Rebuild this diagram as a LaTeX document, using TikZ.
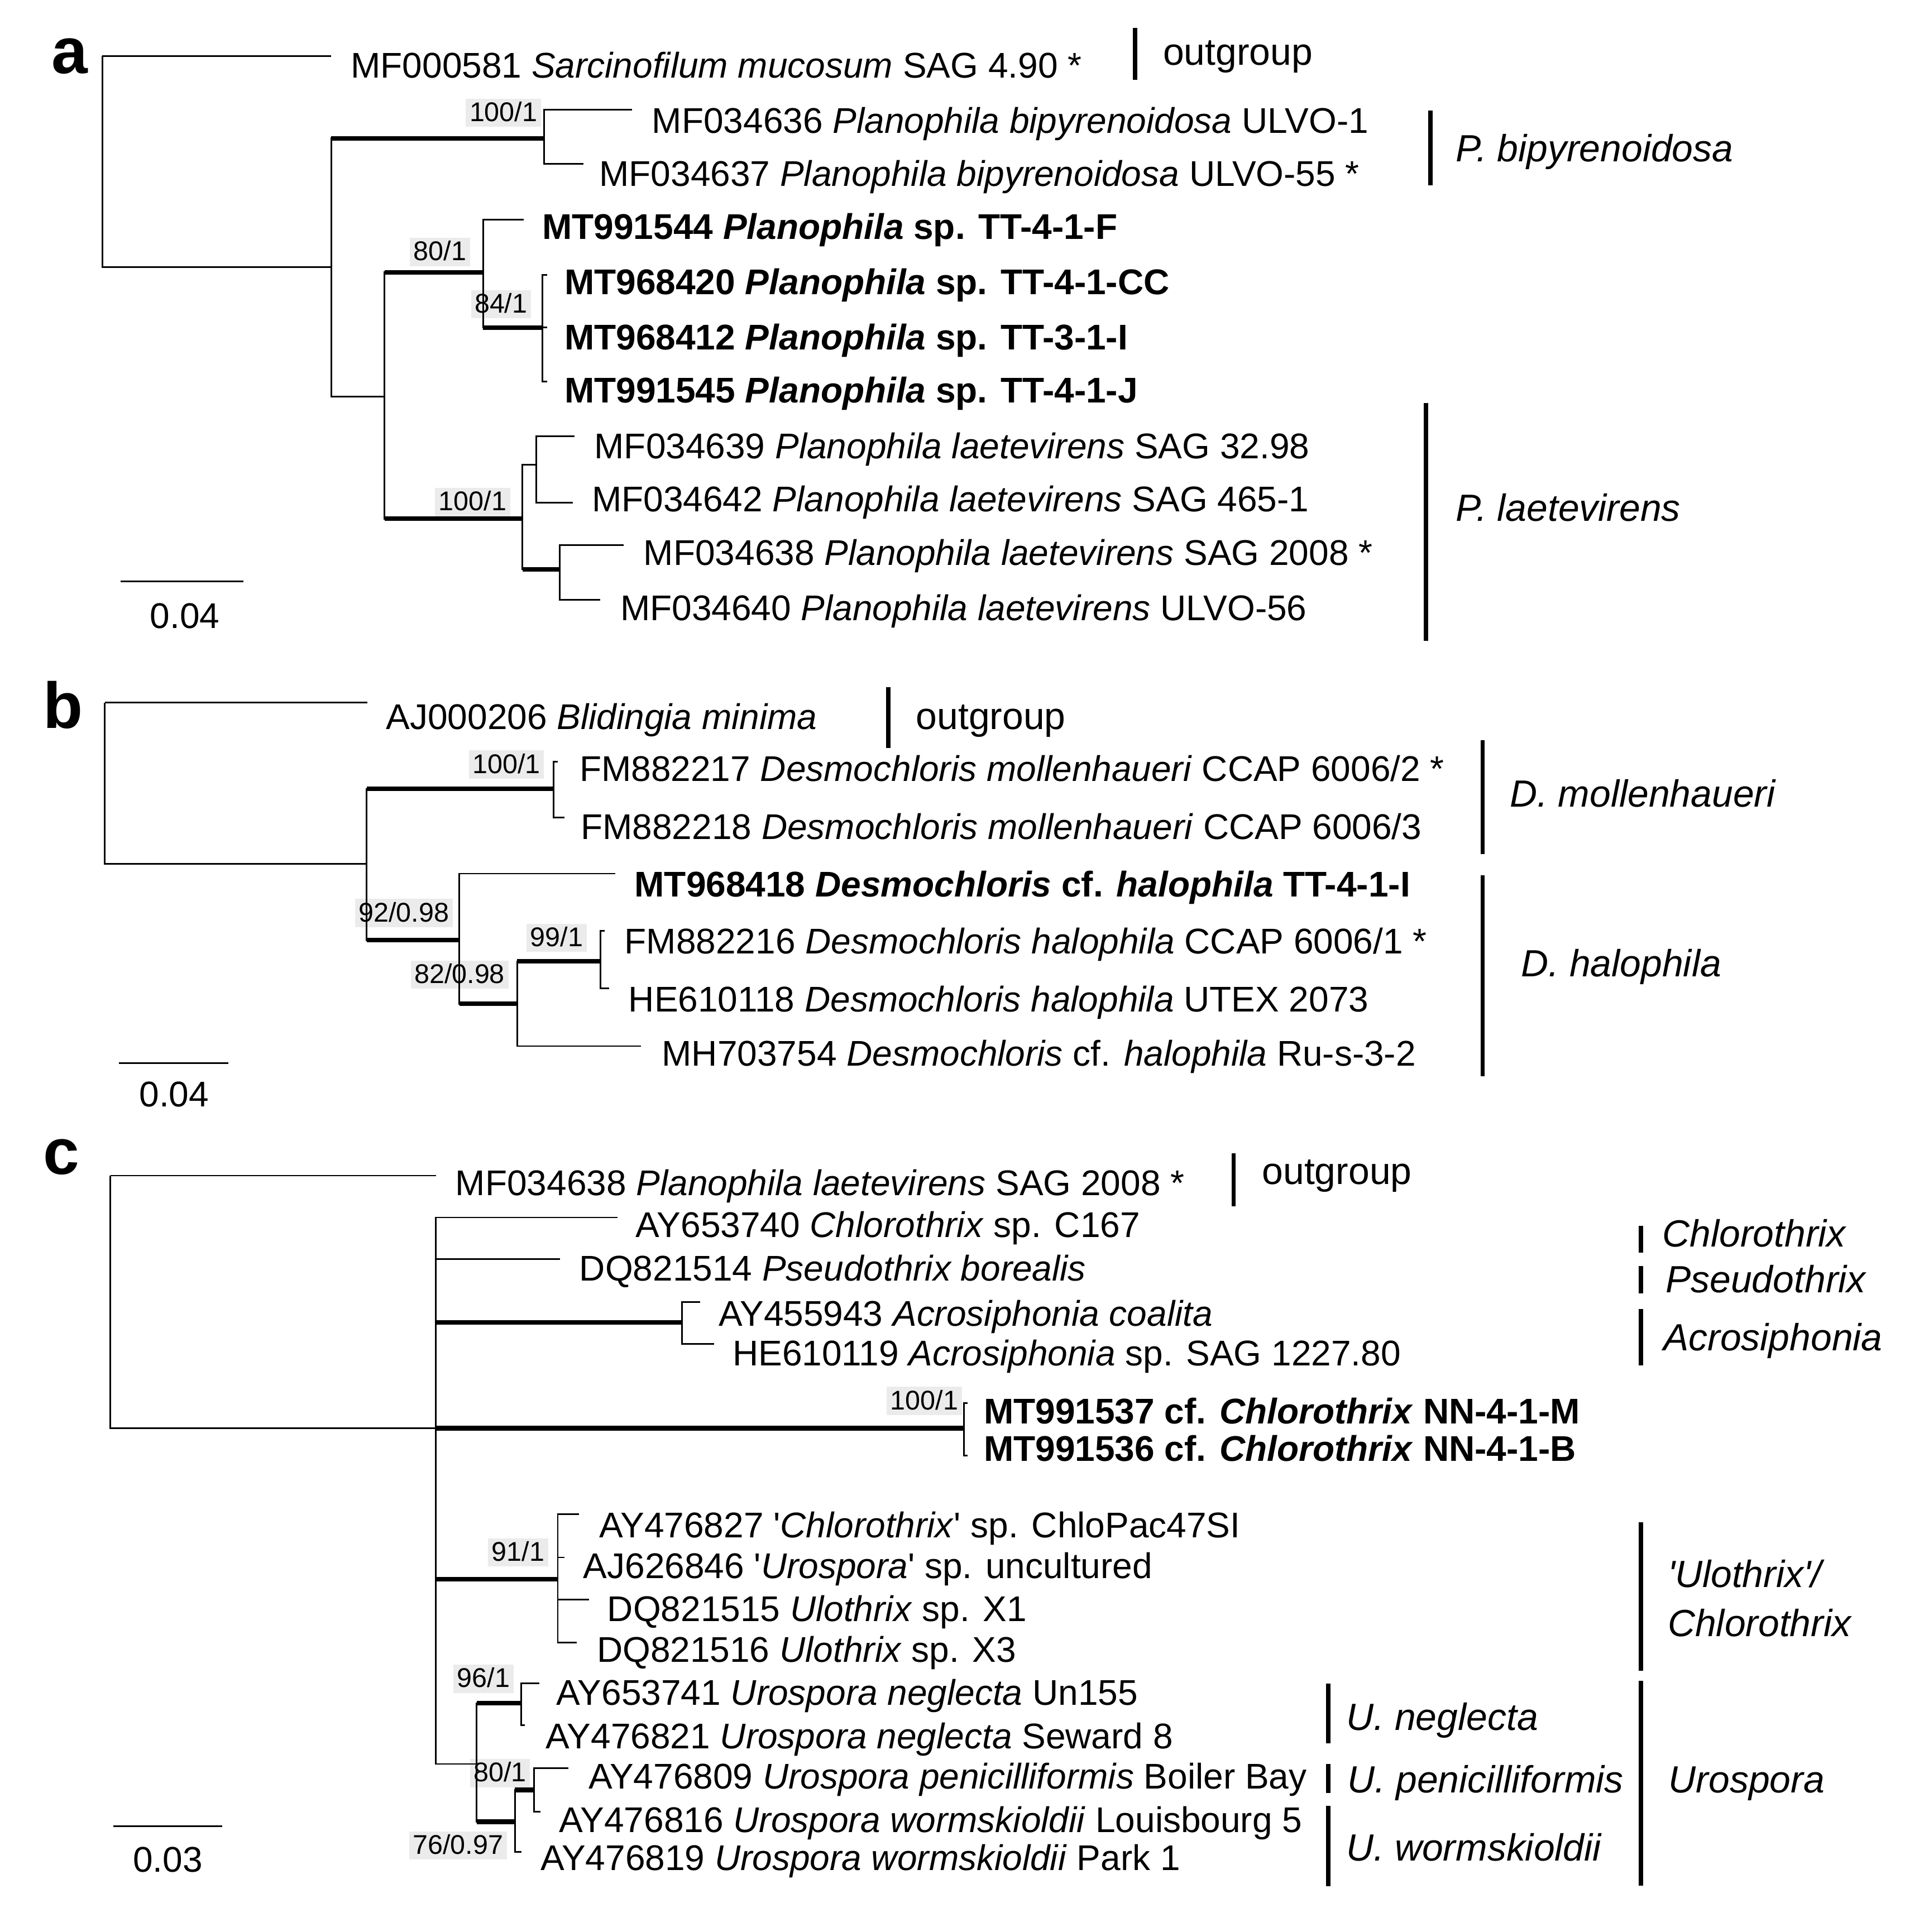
\documentclass[tikz,border=0pt]{standalone}
\usepackage{fontspec}
\setmainfont{Liberation Sans}
\tikzset{
  br/.style={line width=0.75pt},
  bb/.style={line width=2.1pt},
  cb/.style={line width=2pt},
  lab/.style={anchor=base west, inner sep=0pt, font=\fontsize{16.5}{18}\selectfont},
  grp/.style={anchor=base west, inner sep=0pt, font=\fontsize{17.5}{19}\selectfont\itshape},
  bs/.style={fill=black!8, inner xsep=1.7pt, inner ysep=1.5pt, text height=9pt, text depth=1pt, font=\fontsize{12.5}{13}\selectfont},
  pan/.style={anchor=base west, inner sep=0pt, font=\fontsize{30}{30}\selectfont\bfseries},
  sc/.style={anchor=base, inner sep=0pt, font=\fontsize{16.5}{18}\selectfont}
}
\begin{document}
\begin{tikzpicture}[x=0.02cm, y=-0.02cm]
\useasboundingbox (0,0) rectangle (1561,1568);

% a
\node[pan] (pa) at (41.6,59.8) {a};
\coordinate (a0) at (83,45.5);
\coordinate (a1) at (268.8,216.7);
\coordinate (a2) at (441.5,112.3);
\coordinate (a3) at (312,321.7);
\coordinate (a4) at (392,221);
\coordinate (a5) at (440,265.8);
\coordinate (a6) at (424,421);
\coordinate (a7) at (435.2,377);
\coordinate (a8) at (454.3,462);
\coordinate (ta1) at (268.8,45.5);
\coordinate (ta2) at (513,89);
\coordinate (ta3) at (473.4,133);
\coordinate (ta4) at (424.8,178.4);
\coordinate (ta5) at (444,223);
\coordinate (ta6) at (444,265.8);
\coordinate (ta7) at (444,309.7);
\coordinate (ta8) at (466.4,354);
\coordinate (ta9) at (464.7,408);
\coordinate (ta10) at (506,442.6);
\coordinate (ta11) at (487,486.8);
\node[bs] (sa1) at (408.5,91.5) {100/1};
\node[bs] (sa2) at (357,204.5) {80/1};
\node[bs] (sa3) at (406.5,247) {84/1};
\node[bs] (sa4) at (383.5,407.5) {100/1};
\foreach \p/\c in {a0/ta1,a0/a1,a1/a2,a1/a3,a2/ta2,a2/ta3,a3/a4,a3/a6,a4/ta4,a4/a5,
                   a5/ta5,a5/ta6,a5/ta7,a6/a7,a6/a8,a7/ta8,a7/ta9,a8/ta10,a8/ta11}
  \draw[br] (\p) |- (\c);
\foreach \p/\c in {a1/a2,a3/a4,a4/a5,a3/a6,a6/a8}
  \draw[bb] (\p |- \c) -- (\c);
\node[lab] (la1) at (284.4,63) {MF000581 \textit{Sarcinofilum mucosum} SAG 4.90 *};
\node[lab] (la2) at (528.8,108) {MF034636 \textit{Planophila bipyrenoidosa} ULVO-1};
\node[lab] (la3) at (486,151) {MF034637 \textit{Planophila bipyrenoidosa} ULVO-55 *};
\node[lab] (la4) at (439.7,194) {\bfseries MT991544 \textit{Planophila} sp. TT-4-1-F};
\node[lab] (la5) at (457.8,239) {\bfseries MT968420 \textit{Planophila} sp. TT-4-1-CC};
\node[lab] (la6) at (457.8,284) {\bfseries MT968412 \textit{Planophila} sp. TT-3-1-I};
\node[lab] (la7) at (457.8,327) {\bfseries MT991545 \textit{Planophila} sp. TT-4-1-J};
\node[lab] (la8) at (482,372) {MF034639 \textit{Planophila laetevirens} SAG 32.98};
\node[lab] (la9) at (480,415) {MF034642 \textit{Planophila laetevirens} SAG 465-1};
\node[lab] (la10) at (522,458.6) {MF034638 \textit{Planophila laetevirens} SAG 2008 *};
\node[lab] (la11) at (503,503.5) {MF034640 \textit{Planophila laetevirens} ULVO-56};
\draw[cb] (921,22.6) -- (921,64.8);
\draw[cb] (1160.8,89.7) -- (1160.8,150.2);
\draw[cb] (1156.9,327) -- (1156.9,520);
\node[lab] (ga1) at (943.4,53) {\fontsize{17.5}{19}\selectfont outgroup};
\node[grp] (ga2) at (1181,131) {P. bipyrenoidosa};
\node[grp] (ga3) at (1181,423) {P. laetevirens};
\coordinate (sca1) at (98,471.9);
\coordinate (sca2) at (197.7,471.9);
\draw[br] (sca1) -- (sca2);
\node[sc] (ka) at (150,510) {0.04};

% b
\node[pan] (pb) at (34.7,591) {b};
\coordinate (b0) at (85,570.2);
\coordinate (b1) at (297.6,701.1);
\coordinate (b2) at (449.1,640.2);
\coordinate (b3) at (372.8,763);
\coordinate (b4) at (419.6,814.6);
\coordinate (b5) at (487.3,780.2);
\coordinate (tb1) at (298.2,570.2);
\coordinate (tb2) at (452.6,618.1);
\coordinate (tb3) at (457.8,663.6);
\coordinate (tb4) at (499.4,709);
\coordinate (tb5) at (490.7,755.6);
\coordinate (tb6) at (494.2,802.3);
\coordinate (tb7) at (520.2,849);
\node[bs] (sb1) at (411,620.5) {100/1};
\node[bs] (sb2) at (327.7,741) {92/0.98};
\node[bs] (sb3) at (372.9,791) {82/0.98};
\node[bs] (sb4) at (451.7,761) {99/1};
\foreach \p/\c in {b0/tb1,b0/b1,b1/b2,b1/b3,b2/tb2,b2/tb3,b3/tb4,b3/b4,b4/b5,b4/tb7,b5/tb5,b5/tb6}
  \draw[br] (\p) |- (\c);
\foreach \p/\c in {b1/b2,b1/b3,b3/b4,b4/b5}
  \draw[bb] (\p |- \c) -- (\c);
\node[lab] (lb1) at (313,592) {AJ000206 \textit{Blidingia minima}};
\node[lab] (lb2) at (470,634) {FM882217 \textit{Desmochloris mollenhaueri} CCAP 6006/2 *};
\node[lab] (lb3) at (471,681) {FM882218 \textit{Desmochloris mollenhaueri} CCAP 6006/3};
\node[lab] (lb4) at (514.6,727.6) {\bfseries MT968418 \textit{Desmochloris} cf. \textit{halophila} TT-4-1-I};
\node[lab] (lb5) at (506.5,774) {FM882216 \textit{Desmochloris halophila} CCAP 6006/1 *};
\node[lab] (lb6) at (509.7,821) {HE610118 \textit{Desmochloris halophila} UTEX 2073};
\node[lab] (lb7) at (536.8,865) {MH703754 \textit{Desmochloris} cf. \textit{halophila} Ru-s-3-2};
\draw[cb] (720.9,557.5) -- (720.9,607);
\draw[cb] (1203,600.9) -- (1203,693);
\draw[cb] (1203,710.2) -- (1203,873.5);
\node[lab] (gb1) at (743,592) {\fontsize{17.5}{19}\selectfont outgroup};
\node[grp] (gb2) at (1224.8,655) {D. mollenhaueri};
\node[grp] (gb3) at (1234,792.5) {D. halophila};
\coordinate (scb1) at (96.4,863);
\coordinate (scb2) at (185.5,863);
\draw[br] (scb1) -- (scb2);
\node[sc] (kb) at (141.3,898) {0.04};

% c
\node[pan] (pc) at (34.7,953) {c};
\coordinate (c0) at (89.5,954.1);
\coordinate (c1) at (353.7,1159.1);
\coordinate (c2) at (553.4,1073.1);
\coordinate (c3) at (782.3,1159.1);
\coordinate (c4) at (452.6,1281.6);
\coordinate (c5) at (386.7,1431.6);
\coordinate (c6) at (423.1,1382.4);
\coordinate (c7) at (417.9,1478.5);
\coordinate (c8) at (433.5,1452.7);
\coordinate (tc1) at (353.7,954.1);
\coordinate (tc2) at (501.1,988.1);
\coordinate (tc3) at (454.3,1021.9);
\coordinate (tc4) at (568,1056.9);
\coordinate (tc5) at (579.5,1090.7);
\coordinate (tc6) at (785,1138.8);
\coordinate (tc7) at (785,1181.3);
\coordinate (tc8) at (469.9,1228.8);
\coordinate (tc9) at (457.8,1264);
\coordinate (tc10) at (477.9,1298);
\coordinate (tc11) at (468.2,1333.1);
\coordinate (tc12) at (437.7,1366);
\coordinate (tc13) at (425.9,1400);
\coordinate (tc14) at (461.2,1435.1);
\coordinate (tc15) at (438.7,1470.3);
\coordinate (tc16) at (423,1503);
\node[bs] (sc1) at (750,1137) {100/1};
\node[bs] (sc2) at (420.5,1260) {91/1};
\node[bs] (sc3) at (392.4,1362.5) {96/1};
\node[bs] (sc4) at (405.8,1439) {80/1};
\node[bs] (sc5) at (371.6,1497.8) {76/0.97};
\foreach \p/\c in {c0/tc1,c0/c1,c1/tc2,c1/tc3,c1/c2,c1/c3,c1/c4,c1/c5,c2/tc4,c2/tc5,c3/tc6,c3/tc7,
                   c4/tc8,c4/tc9,c4/tc10,c4/tc11,c5/c6,c5/c7,c6/tc12,c6/tc13,c7/c8,c7/tc16,c8/tc14,c8/tc15}
  \draw[br] (\p) |- (\c);
\foreach \p/\c in {c1/c2,c1/c3,c1/c4,c5/c6,c5/c7,c7/c8}
  \draw[bb] (\p |- \c) -- (\c);
\node[lab] (lc1) at (369.3,970) {MF034638 \textit{Planophila laetevirens} SAG 2008 *};
\node[lab] (lc2) at (515.6,1004) {AY653740 \textit{Chlorothrix} sp. C167};
\node[lab] (lc3) at (469.9,1039.6) {DQ821514 \textit{Pseudothrix borealis}};
\node[lab] (lc4) at (582.9,1076) {AY455943 \textit{Acrosiphonia coalita}};
\node[lab] (lc5) at (594.2,1108.4) {HE610119 \textit{Acrosiphonia} sp. SAG 1227.80};
\node[lab] (lc6) at (798,1155.5) {\bfseries MT991537 cf. \textit{Chlorothrix} NN-4-1-M};
\node[lab] (lc7) at (798,1186) {\bfseries MT991536 cf. \textit{Chlorothrix} NN-4-1-B};
\node[lab] (lc8) at (486,1248) {AY476827 \textquotesingle\textit{Chlorothrix}\textquotesingle{} sp. ChloPac47SI};
\node[lab] (lc9) at (473,1281) {AJ626846 \textquotesingle\textit{Urospora}\textquotesingle{} sp. uncultured};
\node[lab] (lc10) at (492.5,1316) {DQ821515 \textit{Ulothrix} sp. X1};
\node[lab] (lc11) at (484,1349) {DQ821516 \textit{Ulothrix} sp. X3};
\node[lab] (lc12) at (451.3,1384) {AY653741 \textit{Urospora neglecta} Un155};
\node[lab] (lc13) at (442.7,1419.3) {AY476821 \textit{Urospora neglecta} Seward 8};
\node[lab] (lc14) at (477.3,1452) {AY476809 \textit{Urospora penicilliformis} Boiler Bay};
\node[lab] (lc15) at (453.5,1487.3) {AY476816 \textit{Urospora wormskioldii} Louisbourg 5};
\node[lab] (lc16) at (438.3,1517.8) {AY476819 \textit{Urospora wormskioldii} Park 1};
\draw[cb] (1001,936) -- (1001,979);
\draw[cb] (1331.4,994.9) -- (1331.4,1016.8);
\draw[cb] (1331.4,1027.4) -- (1331.4,1049.8);
\draw[cb] (1331.4,1062.4) -- (1331.4,1108);
\draw[cb] (1331.4,1235.5) -- (1331.4,1355.8);
\draw[cb] (1331.4,1364.3) -- (1331.4,1530.2);
\draw[cb] (1077.8,1366.4) -- (1077.8,1415);
\draw[cb] (1077.8,1431.8) -- (1077.8,1455);
\draw[cb] (1077.8,1465.6) -- (1077.8,1531);
\node[lab] (gc1) at (1023.8,961) {\fontsize{17.5}{19}\selectfont outgroup};
\node[grp] (gc2) at (1348.7,1012) {Chlorothrix};
\node[grp] (gc3) at (1351.2,1049) {Pseudothrix};
\node[grp] (gc4) at (1349.4,1096) {Acrosiphonia};
\node[grp] (gc5) at (1353,1288) {\textquotesingle Ulothrix\textquotesingle/};
\node[grp] (gc6) at (1353,1328) {Chlorothrix};
\node[grp] (gc7) at (1353.7,1455) {Urospora};
\node[grp] (gc8) at (1092.2,1404) {U. neglecta};
\node[grp] (gc9) at (1093.2,1455) {U. penicilliformis};
\node[grp] (gc10) at (1092.2,1510) {U. wormskioldii};
\coordinate (scc1) at (91.9,1482);
\coordinate (scc2) at (180.3,1482);
\draw[br] (scc1) -- (scc2);
\node[sc] (kc) at (136.1,1519.5) {0.03};
\end{tikzpicture}
\end{document}
